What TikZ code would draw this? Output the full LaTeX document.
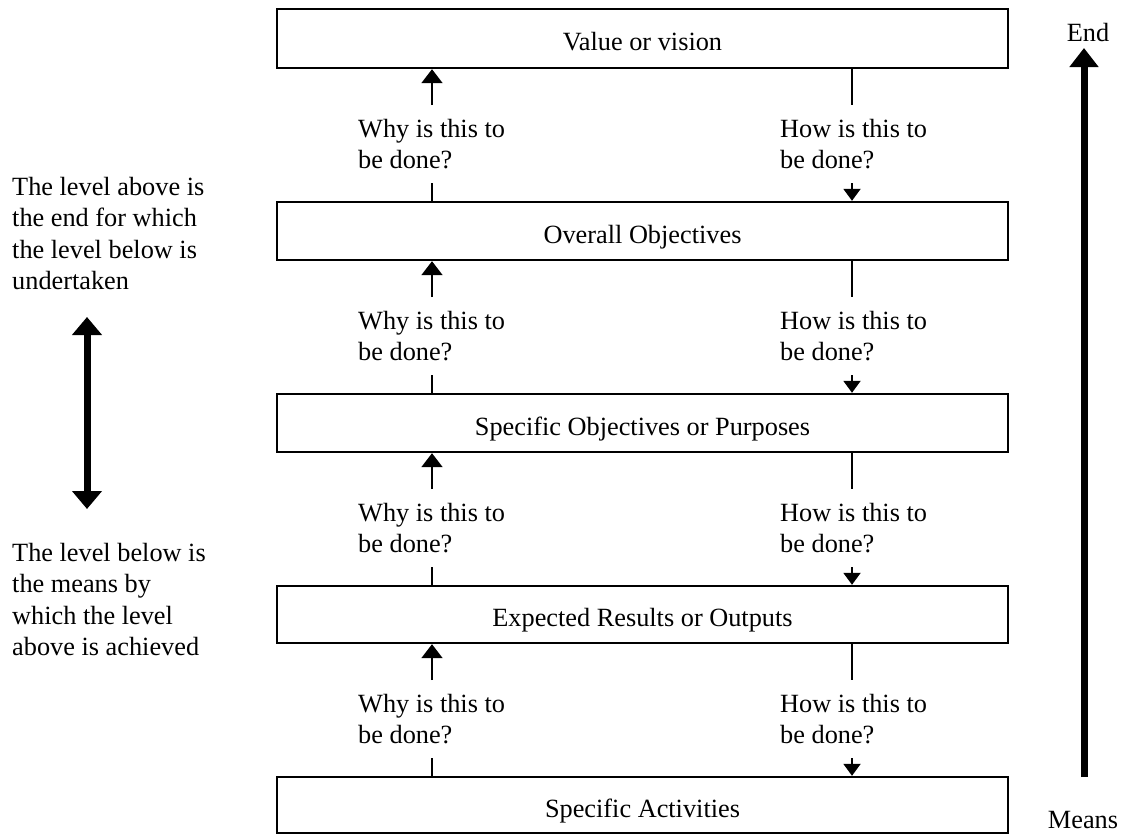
\documentclass[tikz,border=0pt]{standalone}
\usepackage{fontspec}
\setmainfont{Liberation Serif}
\usetikzlibrary{arrows.meta}
\newcommand\diagfont{\fontsize{26.3}{31.5}\selectfont}
\tikzset{
  lvl/.style={draw, line width=2.4pt, minimum width=731pt, text height=24pt, text depth=0pt, inner sep=0pt, font=\diagfont},
  txt/.style={inner sep=0pt, font=\diagfont, align=left},
  conn/.style={line width=2pt},
  upar/.style={conn, -{Triangle[width=21pt,length=14pt]}},
  dnar/.style={conn, -{Triangle[width=17pt,length=12pt]}},
  bigar/.style={line width=7pt, -{Triangle[width=28pt,length=19pt]}},
  dblar/.style={line width=7pt, {Triangle[width=29pt,length=18pt]}-{Triangle[width=29pt,length=18pt]}}
}
\begin{document}
\begin{tikzpicture}[x=1pt,y=-1pt]
\useasboundingbox (0,0) rectangle (1122,835);
% level boxes
\node[lvl, minimum height=59pt] (b1) at (642.5,38.5) {Value or vision};
\node[lvl, minimum height=58pt] (b2) at (642.5,231) {Overall Objectives};
\node[lvl, minimum height=58pt] (b3) at (642.5,423) {Specific Objectives or Purposes};
\node[lvl, minimum height=57pt] (b4) at (642.5,614.5) {Expected Results or Outputs};
\node[lvl, minimum height=56pt] (b5) at (642.5,805) {Specific Activities};
% questions and connectors between levels (base anchor = last line)
\foreach \u/\l/\B in {b1/b2/68, b2/b3/260, b3/b4/452, b4/b5/643} {
  \node[txt, anchor=base west] (why\u) at (358,\B+100.5) {Why is this to\\be done?};
  \node[txt, anchor=base west] (how\u) at (780,\B+100.5) {How is this to\\be done?};
  \coordinate (wa\u) at (432,\B+37);
  \coordinate (wb\u) at (432,\B+115);
  \coordinate (ha\u) at (852,\B+37);
  \coordinate (hb\u) at (852,\B+115);
  \draw[upar] (wa\u) -- (wa\u |- \u.south);
  \draw[conn] (wb\u) -- (wb\u |- \l.north);
  \draw[conn] (ha\u |- \u.south) -- (ha\u);
  \draw[dnar] (hb\u) -- (hb\u |- \l.north);
}
% left explanation
\node[txt, anchor=base west] (above) at (12,289.5) {The level above is\\the end for which\\the level below is\\undertaken};
\node[txt, anchor=base west] (below) at (12,655.5) {The level below is\\the means by\\which the level\\above is achieved};
\coordinate (dtop) at (87,317);
\coordinate (dbot) at (87,509);
\draw[dblar] (dbot) -- (dtop);
% right end/means axis
\node[txt, anchor=base] (end) at (1088,41) {End};
\node[txt, anchor=base] (means) at (1083,828) {Means};
\coordinate (atop) at (1084,48);
\coordinate (abot) at (1084,777);
\draw[bigar] (abot) -- (atop);
\end{tikzpicture}
\end{document}
